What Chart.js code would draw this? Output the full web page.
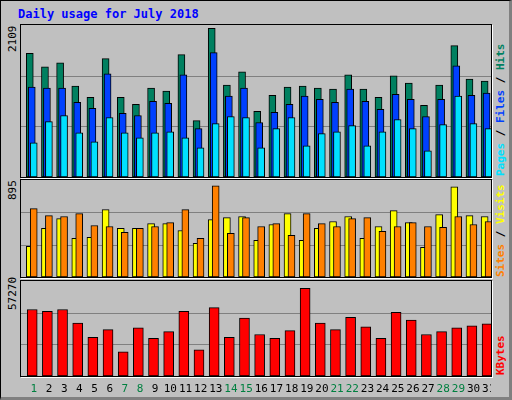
<!DOCTYPE html>
<html><head><meta charset="utf-8">
<script src="https://cdn.jsdelivr.net/npm/chart.js@4"></script>
<style>
body{margin:0;width:512px;height:400px;overflow:hidden;background:#fff}
#frame{position:absolute;left:0;top:0;width:508px;height:396px;background:#c0c0c0;border:1px solid #000;border-right:3px solid #808080;border-bottom:3px solid #808080;box-sizing:content-box}
.panel{position:absolute;left:20px;width:470px;border:1px solid #000;box-shadow:1px 1px 0 #fff;background:#c0c0c0}
.txt{position:absolute;font-family:"DejaVu Sans Mono",monospace;font-size:11px;white-space:nowrap}
.rot{transform-origin:0 0;transform:rotate(-90deg)}
</style></head><body>
<div id="frame"></div>
<div class="txt" style="left:18px;top:7px;color:#0000ff;font-weight:bold;font-size:12px">Daily usage for July 2018</div>
<div class="panel" style="top:24px;height:152px"><canvas id="c1" width="470" height="152"></canvas></div>
<div class="panel" style="top:179px;height:97px"><canvas id="c2" width="470" height="97"></canvas></div>
<div class="panel" style="top:280px;height:95px"><canvas id="c3" width="470" height="115"></canvas></div>
<div class="txt rot" style="left:6px;top:52px">2109</div>
<div class="txt rot" style="left:6px;top:200px">895</div>
<div class="txt rot" style="left:6px;top:310px">57270</div>
<div class="txt rot" style="left:494px;top:176px;font-weight:bold"><span style="color:#00e0ff">Pages</span><span style="color:#000"> / </span><span style="color:#0040ff">Files</span><span style="color:#000"> / </span><span style="color:#008060">Hits</span></div>
<div class="txt rot" style="left:494px;top:277px;font-weight:bold"><span style="color:#ff8000">Sites</span><span style="color:#000"> / </span><span style="color:#ffff00">Visits</span></div>
<div class="txt rot" style="left:494px;top:375px;font-weight:bold;color:#ff0000">KBytes</div>
<script>
const days=[1,2,3,4,5,6,7,8,9,10,11,12,13,14,15,16,17,18,19,20,21,22,23,24,25,26,27,28,29,30,31];
const weekend=[1,7,8,14,15,21,22,28,29];
const hits=[1751,1560,1617,1287,1129,1675,1129,1029,1258,1215,1732,799,2105,1302,1488,928,1158,1273,1287,1258,1244,1445,1244,1129,1431,1330,1015,1302,1861,1388,1359];
const files=[1273,1258,1258,1058,972,1459,900,871,1072,1043,1445,684,1761,1144,1258,771,914,1029,1144,1101,1058,1244,1072,957,1172,1101,857,1101,1574,1158,1187];
const pages=[484,785,871,627,498,842,627,555,627,641,555,412,756,857,842,412,684,842,441,613,641,728,441,641,814,684,369,742,1144,756,684];
const visits=[302,477,574,379,389,662,477,477,525,525,457,331,564,584,594,360,516,623,360,477,545,594,379,496,652,535,292,613,885,603,594];
const sites=[671,603,594,623,506,496,438,477,496,535,662,379,895,428,584,496,525,409,623,525,496,574,584,448,496,535,496,487,594,516,545];
const kbytes=[43450,42200,43450,34670,25270,30280,15860,31540,24640,29030,42200,17120,44700,25270,37810,27150,24640,29660,57270,34670,30280,38430,32160,24640,41570,36550,27150,29030,31540,32790,34050];

const grid={id:'grid',beforeDatasetsDraw(c){const y=c.scales.y,ctx=c.ctx,a=c.chartArea;ctx.save();ctx.strokeStyle='#808080';ctx.lineWidth=1;
 for(const f of [1/3,2/3]){const p=Math.round(y.getPixelForValue(y.max*f))+0.5;ctx.beginPath();ctx.moveTo(a.left,p);ctx.lineTo(a.right,p);ctx.stroke();}ctx.restore();}};
const labels={id:'labels',afterDraw(c){const x=c.scales.x,ctx=c.ctx;ctx.save();ctx.font='11px "DejaVu Sans Mono", monospace';ctx.textAlign='center';ctx.textBaseline='middle';
 days.forEach(d=>{ctx.fillStyle=weekend.includes(d)?'#008040':'#000';ctx.fillText(String(d),x.getPixelForValue(d+0.35),c.chartArea.bottom+13);});ctx.restore();}};
function ds(vals,off,color,th,order){return{data:vals.map((v,i)=>({x:days[i]+off,y:v})),backgroundColor:color,borderColor:'#000',borderWidth:1,barThickness:th,order:order,grouped:false,borderSkipped:false};}
function make(id,sets,max,extra,padB){
 new Chart(document.getElementById(id),{type:'bar',data:{datasets:sets},
  options:{responsive:false,animation:false,devicePixelRatio:1,layout:{padding:{bottom:padB||0}},
   plugins:{legend:{display:false},tooltip:{enabled:false}},
   scales:{x:{type:'linear',min:0.5,max:31.5,offset:false,display:false},y:{min:0,max:max,display:false}}},
  plugins:extra});
}
make('c1',[ds(hits,0.08,'#008060',7,3),ds(files,0.21,'#0040ff',7,2),ds(pages,0.34,'#00e0ff',7,1)],2152,[grid]);
make('c2',[ds(visits,0.08,'#ffff00',7,2),ds(sites,0.34,'#ff8000',7,1)],953,[grid]);
make('c3',[ds(kbytes,0.24,'#ff0000',10,1)],62100,[grid,labels],20);
</script></body></html>
